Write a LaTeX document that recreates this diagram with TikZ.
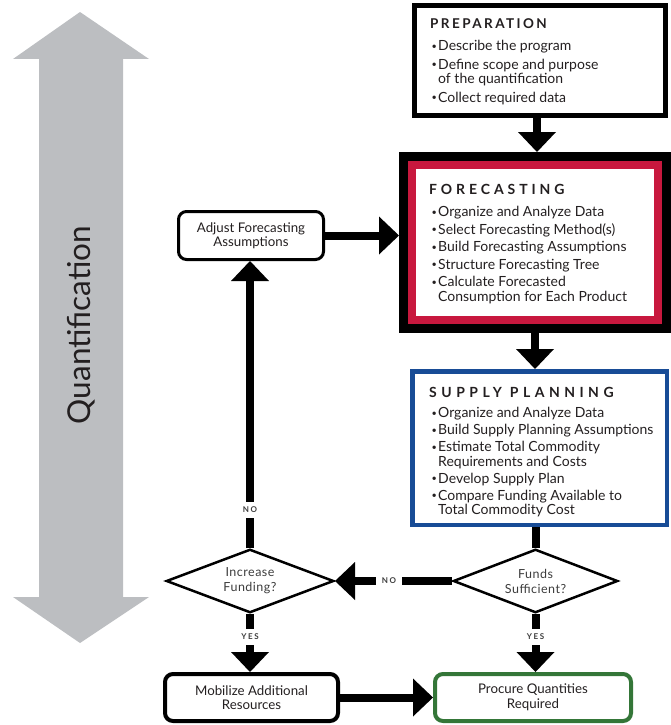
\documentclass[tikz,border=0pt]{standalone}
\usepackage{fontspec}
\usepackage{graphicx}
\setmainfont{Lato}
\usetikzlibrary{arrows.meta,shapes.geometric,calc}
\definecolor{qgray}{RGB}{188,190,193}
\definecolor{fred}{RGB}{200,24,62}
\definecolor{sblue}{RGB}{24,76,150}
\definecolor{pgreen}{RGB}{52,118,56}
\definecolor{txt}{RGB}{35,31,32}
\definecolor{lbl}{RGB}{60,60,60}
\newcommand\bul{\makebox[6.5pt][l]{\raisebox{1.2pt}{\scalebox{0.65}{\textbullet}}}}
\newcommand\ind{\hspace*{6.5pt}}
\newcommand\firststrut{\rule{0pt}{10pt}}
\begin{document}
\begin{tikzpicture}[x=1pt,y=-1pt,
  every node/.style={text=txt},
  conn/.style={line width=8pt, draw=black, -{Triangle[width=38pt,length=20pt,line width=0pt]}},
  plainconn/.style={line width=8pt, draw=black},
  boxtext/.style={anchor=north west, inner sep=0pt, align=left, font=\fontsize{14}{14.5}\selectfont},
  headtext/.style={anchor=base west, inner sep=0pt, font=\fontsize{14}{16}\selectfont\bfseries\addfontfeatures{LetterSpace=28}},
  smallbox/.style={draw=black, rounded corners=8pt, inner sep=0pt, align=center, font=\fontsize{13.3}{14.5}\selectfont},
  decision/.style={diamond, aspect=2.6, draw=black, line width=2.5pt, inner sep=0pt, align=center, text=lbl, font=\fontsize{12.5}{15}\selectfont\addfontfeatures{LetterSpace=4}},
  lab/.style={fill=white, inner xsep=6pt, inner ysep=5pt, text=lbl, font=\fontsize{8}{9}\selectfont\bfseries\addfontfeatures{LetterSpace=20}}
]
\useasboundingbox (0,0) rectangle (671,725);

% side arrow
\fill[qgray] (80,12) -- (149,59) -- (123,59) -- (123,597) -- (149,597) -- (80,643)
  -- (13,597) -- (39,597) -- (39,59) -- (13,59) -- cycle;
\node[rotate=90, inner sep=0pt, font=\fontsize{31.5}{33}\selectfont] (quant) at (81,325) {Quantification};

% boxes
\node[draw=black, line width=5pt, minimum width=251pt, minimum height=110pt, inner sep=0pt] (prep) at (540,60.5) {};
\node[draw=black, line width=9pt, minimum width=263pt, minimum height=172pt, inner sep=0pt] (fore) at (535,242.5) {};
\draw[fred, line width=8pt] ([shift={(13,13)}]fore.north west) rectangle ([shift={(-13,-13)}]fore.south east);
\node[draw=sblue, line width=4.5pt, minimum width=254.5pt, minimum height=153.5pt, inner sep=0pt] (supply) at (539.5,448) {};

\node[smallbox, line width=3pt, minimum width=145pt, minimum height=48pt] (adjust) at (251,235.5) {Adjust Forecasting\\Assumptions};
\node[smallbox, line width=4pt, minimum width=173pt, minimum height=47pt] (mob) at (251.5,697.5) {Mobilize Additional\\Resources};
\node[smallbox, draw=pgreen, line width=4pt, minimum width=196pt, minimum height=47pt] (proc) at (533,697.5) {Procure Quantities\\Required};

\node[decision, minimum width=167.5pt, minimum height=63.5pt] (incr) at (250,581) {Increase\\Funding?};
\node[decision, minimum width=164.5pt, minimum height=63.5pt] (funds) at (535.5,581) {Funds\\Sufficient?};

% texts
\node[headtext, font=\fontsize{13.5}{16}\selectfont\bfseries\addfontfeatures{LetterSpace=18}] (prephead) at (430,29) {PREPARATION};
\node[boxtext] (preptext) at (431.5,40) {\firststrut\bul Describe the program\\[4pt]
  \bul Define scope and purpose\\ \ind of the quantification\\[4pt]
  \bul Collect required data};

\node[headtext] (forehead) at (429,194) {FORECASTING};
\node[boxtext] (foretext) at (431.5,206) {\firststrut\bul Organize and Analyze Data\\[3pt]
  \bul Select Forecasting Method(s)\\[3pt]
  \bul Build Forecasting Assumptions\\[3pt]
  \bul Structure Forecasting Tree\\[3pt]
  \bul Calculate Forecasted\\ \ind Consumption for Each Product};

\node[headtext, font=\fontsize{14}{16}\selectfont\bfseries\addfontfeatures{LetterSpace=32}] (supplyhead) at (429,397) {SUPPLY PLANNING};
\node[boxtext] (supplytext) at (431.5,407) {\firststrut\bul Organize and Analyze Data\\[2.5pt]
  \bul Build Supply Planning Assumptions\\[2.5pt]
  \bul Estimate Total Commodity\\ \ind Requirements and Costs\\[2.5pt]
  \bul Develop Supply Plan\\[2.5pt]
  \bul Compare Funding Available to\\ \ind Total Commodity Cost};

% connectors
\draw[conn] ([xshift=-3pt]prep.south) -- ([xshift=-3pt]prep.south |- fore.north);
\draw[conn] (fore.south) -- (fore.south |- supply.north);
\draw[plainconn] (funds.north |- supply.south) -- (funds.north);
\draw[conn] (funds.south) -- (funds.south |- proc.north);
\draw[conn] (funds.west) -- (incr.east);
\draw[conn] (incr.south) -- (incr.south |- mob.north);
\draw[conn] (incr.north) -- (incr.north |- adjust.south);
\draw[conn] (adjust.east) -- (adjust.east -| fore.west);
\draw[conn] (mob.east) -- (proc.west);

% labels
\node[lab] (yes1) at (535.5,637) {YES};
\node[lab] (yes2) at (250,637) {YES};
\node[lab] (no1) at (389,581) {NO};
\node[lab] (no2) at (250,510) {NO};
\end{tikzpicture}
\end{document}
